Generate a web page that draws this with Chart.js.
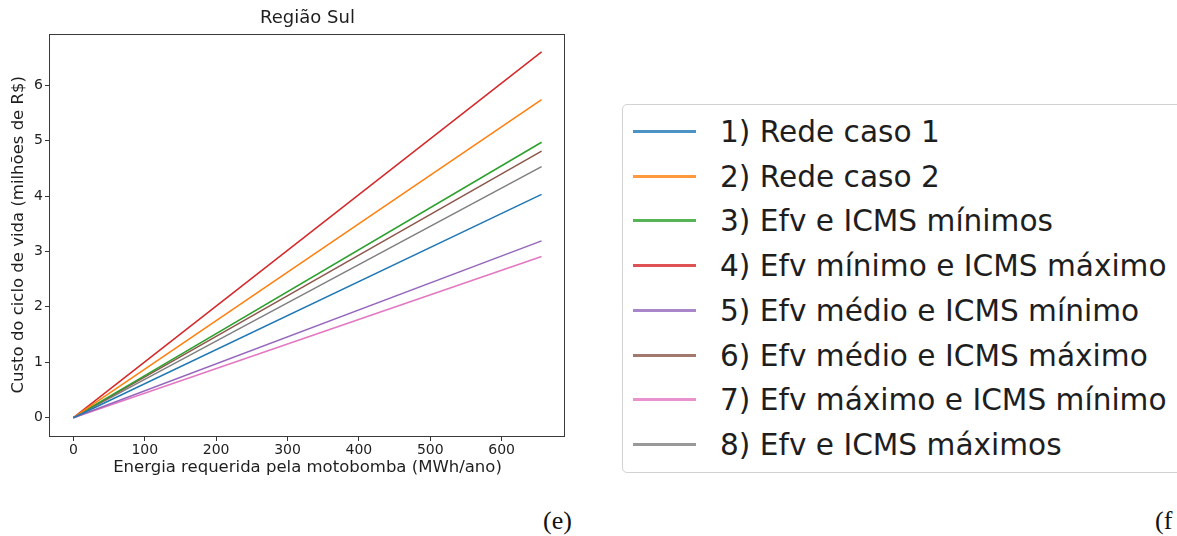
<!DOCTYPE html>
<html>
<head>
<meta charset="utf-8">
<script src="https://cdn.jsdelivr.net/npm/chart.js@4.4.1/dist/chart.umd.min.js"></script>
<style>
    body { margin: 0; width: 1177px; height: 536px; overflow: hidden; background: #fff; position: relative; font-family: "DejaVu Sans", sans-serif; }
    #wrap { position: absolute; left: 0; top: 0; width: 615px; height: 478px; }
    .legend { position: absolute; left: 622px; top: 104px; width: 620px; height: 369px; border: 1px solid #d2d2d2; border-radius: 5px; box-sizing: border-box; background: #fff; }
    .legend .row { position: absolute; left: 0; height: 40px; width: 600px; }
    .legend .swatch { position: absolute; left: 10px; top: 18px; width: 63px; height: 3px; }
    .legend .txt { position: absolute; left: 97px; top: 0; line-height: 40px; font-size: 29.6px; color: #1e1e1e; white-space: nowrap; }
    .cap { position: absolute; font-family: "Liberation Serif", serif; font-size: 26px; line-height: 26px; color: #111; top: 508px; }
</style>
</head>
<body>
<div id="wrap"><canvas id="chart" width="615" height="478"></canvas></div>
<div class="legend" id="legend"></div>
<div class="cap" style="left:543px">(e)</div>
<div class="cap" style="left:1155px">(f</div>
<script>
// Data (two end points per straight line)
const energiaMWh = [0, 656];
const rede1 = [0, 4.03];
const rede2 = [0, 5.74];
const efvIcmsMin = [0, 4.97];
const efvMinIcmsMax = [0, 6.60];
const efvMedIcmsMin = [0, 3.19];
const efvMedIcmsMax = [0, 4.81];
const efvMaxIcmsMin = [0, 2.91];
const efvIcmsMax = [0, 4.53];

const nomes = [
    '1) Rede caso 1',
    '2) Rede caso 2',
    '3) Efv e ICMS mínimos',
    '4) Efv mínimo e ICMS máximo',
    '5) Efv médio e ICMS mínimo',
    '6) Efv médio e ICMS máximo',
    '7) Efv máximo e ICMS mínimo',
    '8) Efv e ICMS máximos'
];
const series = [rede1, rede2, efvIcmsMin, efvMinIcmsMax, efvMedIcmsMin, efvMedIcmsMax, efvMaxIcmsMin, efvIcmsMax];
const cores = ['#1f77b4', '#ff7f0e', '#2ca02c', '#d62728', '#9467bd', '#8c564b', '#e377c2', '#7f7f7f'];

const xTicks = [0, 100, 200, 300, 400, 500, 600];
const yTicks = [0, 1, 2, 3, 4, 5, 6];

const fonte = 'DejaVu Sans';
const texto = '#1e1e1e';

// box around the plot area, like matplotlib spines
const spines = {
    id: 'spines',
    afterDraw(chart) {
        const a = chart.chartArea;
        const ctx = chart.ctx;
        ctx.save();
        ctx.strokeStyle = '#3a3a3a';
        ctx.lineWidth = 1;
        ctx.strokeRect(Math.round(a.left) - 0.5, Math.round(a.top) + 0.5, Math.round(a.right - a.left), Math.round(a.bottom - a.top));
        ctx.restore();
    }
};

const ctx = document.getElementById('chart').getContext('2d');
new Chart(ctx, {
    type: 'line',
    data: {
        datasets: series.map((s, i) => ({
            label: nomes[i],
            data: energiaMWh.map((x, j) => ({ x: x, y: s[j] })),
            borderColor: cores[i],
            backgroundColor: cores[i],
            borderWidth: 1.5,
            pointRadius: 0,
            fill: false,
            tension: 0
        }))
    },
    options: {
        responsive: false,
        animation: false,
        layout: { padding: 0 },
        plugins: {
            legend: { display: false },
            tooltip: { enabled: false },
            title: {
                display: true,
                text: 'Região Sul',
                color: texto,
                font: { family: fonte, size: 18, weight: 'normal' },
                padding: { top: 8, bottom: 4 }
            }
        },
        scales: {
            x: {
                type: 'linear',
                min: -32.8,
                max: 688.8,
                afterBuildTicks: s => { s.ticks = xTicks.map(v => ({ value: v })); },
                afterFit: s => { s.height = 42; },
                grid: { drawOnChartArea: false, drawTicks: true, tickLength: 5, tickColor: '#333' },
                border: { display: false },
                ticks: { color: texto, font: { family: fonte, size: 14 }, padding: 1, maxRotation: 0 },
                title: {
                    display: true,
                    text: 'Energia requerida pela motobomba (MWh/ano)',
                    color: texto,
                    font: { family: fonte, size: 16.5 },
                    padding: 0
                }
            },
            y: {
                type: 'linear',
                min: -0.33,
                max: 6.93,
                afterBuildTicks: s => { s.ticks = yTicks.map(v => ({ value: v })); },
                afterFit: s => { s.width = 50; },
                grid: { drawOnChartArea: false, drawTicks: true, tickLength: 5, tickColor: '#333' },
                border: { display: false },
                ticks: { color: texto, font: { family: fonte, size: 14 }, padding: 2 },
                title: {
                    display: true,
                    text: 'Custo do ciclo de vida (milhões de R$)',
                    color: texto,
                    font: { family: fonte, size: 16.5 },
                    padding: { top: 8.6, bottom: 0 }
                }
            },
            y2: {
                type: 'linear',
                position: 'right',
                display: true,
                afterFit: s => { s.width = 50; },
                grid: { display: false },
                ticks: { display: false },
                border: { display: false }
            }
        }
    },
    plugins: [spines]
});

// legend on the right, built from the same labels and colours
const legend = document.getElementById('legend');
nomes.forEach((nome, i) => {
    const row = document.createElement('div');
    row.className = 'row';
    row.style.top = (132 + 44.7 * i - 104 - 1 - 20) + 'px';
    const sw = document.createElement('div');
    sw.className = 'swatch';
    sw.style.background = cores[i];
    sw.style.opacity = 0.8;
    const t = document.createElement('div');
    t.className = 'txt';
    t.textContent = nome;
    row.appendChild(sw);
    row.appendChild(t);
    legend.appendChild(row);
});
</script>
</body>
</html>
